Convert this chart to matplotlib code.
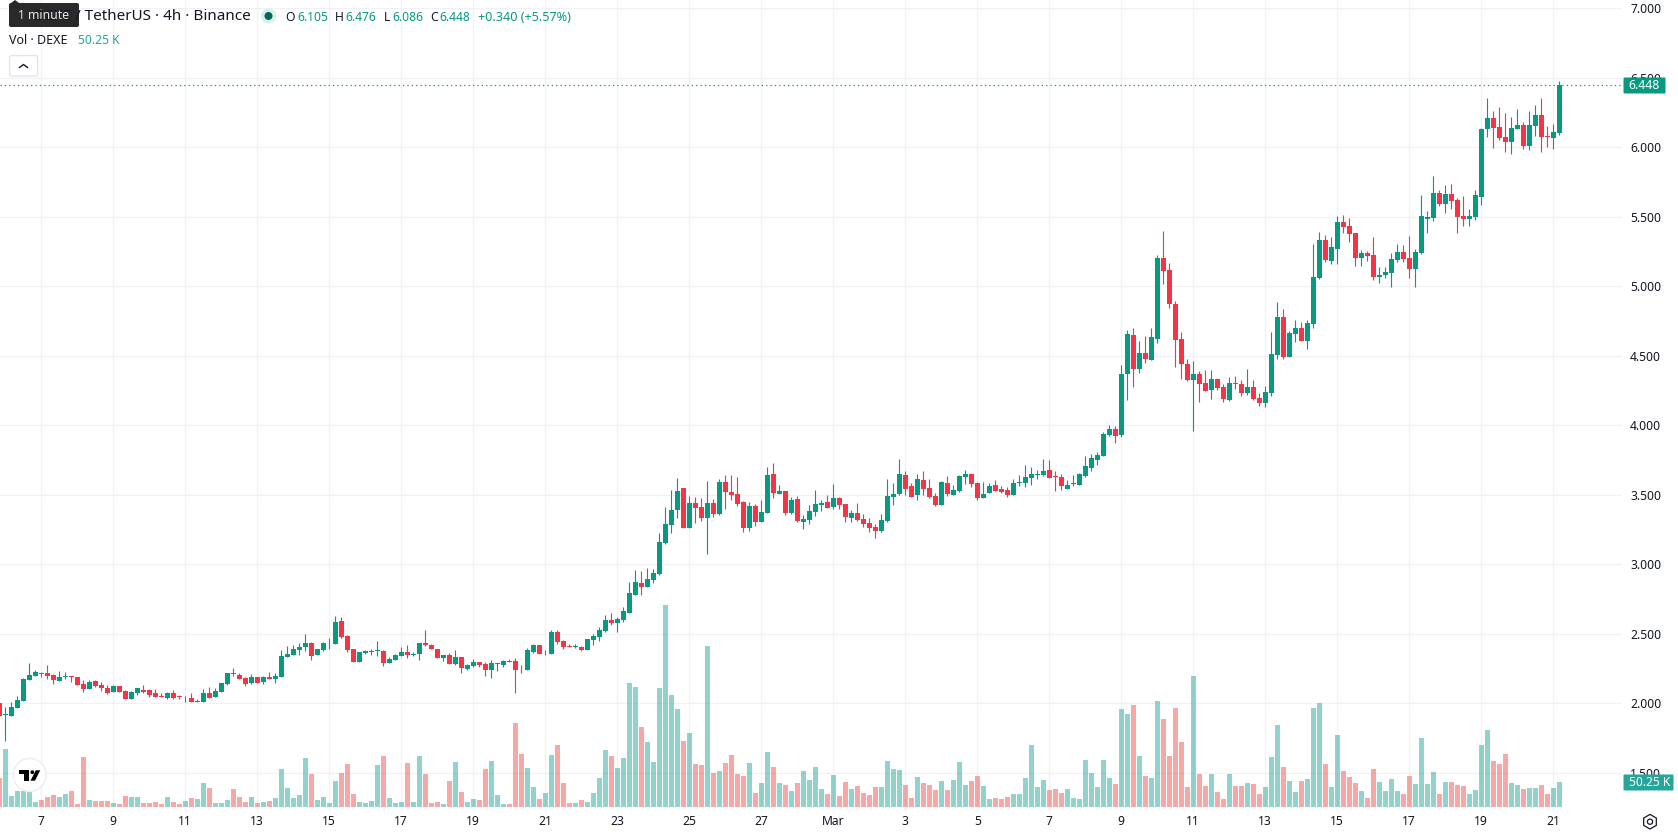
import matplotlib
matplotlib.use("Agg")
import numpy as np
import matplotlib.pyplot as plt
from matplotlib.patches import Circle, FancyBboxPatch, Polygon, Rectangle, RegularPolygon

plt.rcParams['font.family'] = ['Noto Sans', 'DejaVu Sans']

# 4h candles, DEXE/USDT
opens = [1.999,1.917,1.910,1.968,2.018,2.169,2.198,2.217,2.217,2.203,2.162,2.191,2.193,2.189,2.138,2.105,2.160,2.131,2.109,2.083,
 2.124,2.088,2.033,2.073,2.095,2.097,2.073,2.052,2.040,2.073,2.052,2.035,2.037,2.011,2.011,2.073,2.047,2.083,2.138,2.217,
 2.203,2.181,2.145,2.189,2.153,2.189,2.174,2.189,2.333,2.347,2.385,2.405,2.433,2.347,2.383,2.431,2.426,2.592,2.484,2.390,
 2.297,2.361,2.371,2.378,2.376,2.289,2.311,2.339,2.368,2.346,2.353,2.432,2.418,2.389,2.324,2.346,2.281,2.332,2.245,2.267,
 2.296,2.281,2.238,2.284,2.274,2.303,2.303,2.243,2.238,2.372,2.418,2.353,2.353,2.512,2.447,2.411,2.406,2.404,2.382,2.454,
 2.476,2.519,2.598,2.576,2.598,2.648,2.778,2.862,2.836,2.886,2.929,3.152,3.282,3.390,3.548,3.260,3.440,3.412,3.332,3.440,
 3.361,3.592,3.520,3.505,3.448,3.260,3.419,3.304,3.368,3.649,3.505,3.527,3.368,3.469,3.304,3.318,3.376,3.428,3.448,3.412,
 3.476,3.433,3.332,3.368,3.325,3.296,3.268,3.239,3.311,3.484,3.505,3.642,3.563,3.498,3.606,3.548,3.491,3.426,3.584,3.498,
 3.527,3.628,3.649,3.584,3.476,3.512,3.570,3.541,3.534,3.498,3.587,3.584,3.620,3.644,3.642,3.678,3.635,3.628,3.541,3.580,
 3.570,3.635,3.692,3.750,3.779,3.930,3.973,3.929,4.368,4.649,4.404,4.519,4.469,4.620,5.203,5.117,4.872,4.620,4.440,4.325,
 4.368,4.303,4.253,4.332,4.275,4.181,4.303,4.296,4.231,4.275,4.195,4.159,4.231,4.505,4.779,4.491,4.656,4.699,4.606,4.728,
 5.058,5.332,5.181,5.267,5.462,5.433,5.382,5.202,5.238,5.224,5.066,5.080,5.094,5.188,5.246,5.202,5.123,5.238,5.483,5.490,
 5.670,5.591,5.663,5.620,5.505,5.483,5.498,5.642,6.131,6.210,6.146,6.074,6.038,6.131,6.160,6.009,6.153,6.232,6.081,6.066,
 6.105]
highs = [1.999,1.970,2.009,2.052,2.181,2.289,2.239,2.227,2.275,2.210,2.232,2.225,2.193,2.189,2.167,2.167,2.167,2.155,2.131,2.131,
 2.124,2.095,2.088,2.109,2.131,2.102,2.102,2.076,2.081,2.095,2.059,2.052,2.073,2.030,2.102,2.117,2.109,2.145,2.217,2.253,
 2.217,2.186,2.210,2.189,2.196,2.225,2.217,2.383,2.412,2.419,2.433,2.498,2.441,2.390,2.441,2.469,2.628,2.621,2.491,2.390,
 2.369,2.383,2.390,2.448,2.383,2.333,2.354,2.404,2.418,2.368,2.432,2.526,2.425,2.389,2.346,2.360,2.382,2.332,2.281,2.317,
 2.296,2.296,2.310,2.288,2.310,2.317,2.324,2.274,2.396,2.425,2.418,2.382,2.526,2.526,2.454,2.425,2.425,2.411,2.461,2.497,
 2.548,2.634,2.648,2.620,2.692,2.872,2.958,2.951,2.972,2.965,3.224,3.412,3.534,3.620,3.548,3.491,3.484,3.476,3.599,3.469,
 3.613,3.642,3.642,3.628,3.455,3.448,3.433,3.462,3.700,3.728,3.570,3.527,3.484,3.491,3.354,3.426,3.534,3.462,3.498,3.577,
 3.484,3.433,3.390,3.440,3.361,3.332,3.289,3.361,3.613,3.584,3.757,3.671,3.584,3.649,3.671,3.613,3.512,3.599,3.635,3.570,
 3.642,3.678,3.649,3.592,3.592,3.584,3.606,3.563,3.556,3.613,3.642,3.714,3.700,3.678,3.757,3.750,3.671,3.649,3.606,3.642,
 3.656,3.779,3.793,3.808,3.952,4.002,3.995,4.433,4.685,4.699,4.606,4.642,4.699,5.225,5.398,5.167,4.894,4.671,4.476,4.462,
 4.390,4.397,4.397,4.339,4.296,4.347,4.354,4.325,4.404,4.325,4.231,4.282,4.671,4.887,4.836,4.678,4.757,4.743,4.757,5.303,
 5.390,5.368,5.354,5.505,5.512,5.490,5.382,5.260,5.253,5.354,5.138,5.138,5.238,5.303,5.296,5.361,5.267,5.656,5.541,5.793,
 5.692,5.728,5.735,5.634,5.649,5.555,5.692,6.138,6.354,6.261,6.290,6.246,6.218,6.275,6.182,6.261,6.304,6.354,6.153,6.167,
 6.476]
lows = [1.910,1.730,1.910,1.968,2.018,2.169,2.198,2.191,2.177,2.141,2.162,2.177,2.155,2.131,2.083,2.105,2.119,2.090,2.069,2.083,
 2.083,2.033,2.033,2.061,2.076,2.047,2.047,2.047,2.030,2.033,2.033,2.011,2.011,2.011,2.011,2.040,2.047,2.083,2.131,2.198,
 2.177,2.124,2.141,2.148,2.141,2.177,2.148,2.189,2.333,2.347,2.347,2.376,2.311,2.347,2.376,2.390,2.426,2.469,2.369,2.297,
 2.297,2.354,2.347,2.340,2.268,2.289,2.311,2.339,2.324,2.339,2.310,2.411,2.389,2.324,2.303,2.281,2.274,2.216,2.238,2.260,
 2.260,2.195,2.180,2.231,2.260,2.296,2.072,2.216,2.238,2.360,2.353,2.346,2.353,2.425,2.389,2.404,2.396,2.375,2.382,2.418,
 2.447,2.512,2.562,2.512,2.584,2.648,2.778,2.778,2.836,2.864,2.922,3.145,3.224,3.332,3.260,3.260,3.296,3.311,3.073,3.340,
 3.354,3.397,3.462,3.419,3.232,3.239,3.275,3.304,3.368,3.476,3.505,3.354,3.361,3.304,3.253,3.289,3.347,3.383,3.404,3.397,
 3.397,3.304,3.304,3.311,3.268,3.232,3.188,3.232,3.304,3.426,3.498,3.498,3.484,3.462,3.498,3.476,3.419,3.426,3.491,3.498,
 3.520,3.577,3.556,3.462,3.476,3.512,3.527,3.512,3.484,3.498,3.563,3.556,3.570,3.613,3.635,3.620,3.527,3.534,3.541,3.563,
 3.570,3.628,3.671,3.714,3.779,3.923,3.872,3.915,4.181,4.275,4.375,4.447,4.469,4.591,5.016,4.843,4.419,4.332,4.318,3.958,
 4.167,4.246,4.188,4.253,4.167,4.174,4.260,4.210,4.217,4.181,4.138,4.131,4.210,4.476,4.476,4.491,4.599,4.606,4.548,4.699,
 5.051,5.174,5.159,5.159,5.382,5.318,5.145,5.145,5.181,5.044,5.022,5.058,4.994,5.174,5.174,5.058,4.994,5.231,5.382,5.469,
 5.577,5.526,5.555,5.382,5.433,5.433,5.476,5.584,6.074,5.994,6.052,5.966,5.951,6.131,5.987,5.980,6.081,5.966,6.002,5.987,
 6.086]
closes = [1.910,1.922,1.970,2.023,2.174,2.203,2.225,2.213,2.196,2.169,2.189,2.196,2.189,2.133,2.105,2.153,2.124,2.112,2.076,2.124,
 2.083,2.033,2.081,2.109,2.083,2.061,2.047,2.047,2.073,2.040,2.045,2.040,2.011,2.016,2.073,2.040,2.088,2.145,2.217,2.213,
 2.177,2.138,2.189,2.148,2.189,2.177,2.196,2.340,2.354,2.390,2.405,2.433,2.340,2.390,2.433,2.436,2.585,2.477,2.383,2.297,
 2.369,2.376,2.376,2.383,2.289,2.318,2.347,2.368,2.346,2.353,2.432,2.418,2.389,2.324,2.346,2.281,2.332,2.252,2.274,2.296,
 2.274,2.238,2.288,2.288,2.303,2.296,2.238,2.238,2.382,2.418,2.353,2.358,2.512,2.440,2.404,2.404,2.411,2.382,2.461,2.483,
 2.526,2.598,2.576,2.605,2.663,2.792,2.872,2.836,2.893,2.936,3.160,3.289,3.390,3.527,3.260,3.440,3.404,3.332,3.440,3.361,
 3.592,3.520,3.498,3.433,3.260,3.419,3.304,3.376,3.642,3.512,3.527,3.368,3.462,3.311,3.325,3.383,3.433,3.440,3.404,3.476,
 3.426,3.340,3.368,3.318,3.289,3.260,3.239,3.318,3.491,3.505,3.649,3.541,3.484,3.613,3.541,3.484,3.426,3.592,3.505,3.534,
 3.635,3.649,3.577,3.476,3.505,3.563,3.527,3.520,3.498,3.584,3.592,3.628,3.649,3.649,3.671,3.620,3.630,3.563,3.570,3.584,
 3.649,3.707,3.764,3.786,3.937,3.973,3.923,4.368,4.656,4.404,4.519,4.476,4.635,5.203,5.110,4.872,4.613,4.440,4.325,4.368,
 4.296,4.246,4.332,4.267,4.188,4.303,4.299,4.231,4.275,4.188,4.159,4.239,4.512,4.779,4.491,4.663,4.699,4.606,4.735,5.066,
 5.332,5.188,5.282,5.462,5.426,5.375,5.202,5.238,5.217,5.066,5.080,5.102,5.195,5.246,5.195,5.123,5.246,5.505,5.498,5.670,
 5.591,5.663,5.613,5.498,5.483,5.505,5.656,6.131,6.210,6.138,6.066,6.038,6.138,6.160,6.009,6.160,6.232,6.074,6.076,6.110,
 6.448]
# volume, thousands
volumes = [59.2,118.3,22.4,32.6,32.6,30.6,10.2,14.3,20.4,24.5,20.4,26.5,32.6,6.1,102.0,14.3,12.2,12.2,12.2,8.2,
 6.1,22.4,20.4,20.4,8.2,8.2,10.2,6.1,20.4,10.2,6.1,12.2,18.4,16.3,49.0,38.8,8.2,8.2,14.3,36.7,
 20.4,10.2,20.4,8.2,10.2,12.2,18.4,77.5,38.8,18.4,24.5,100.0,67.3,14.3,20.4,8.2,53.0,69.4,87.7,26.5,
 10.2,8.2,12.2,85.7,104.0,18.4,8.2,10.2,89.8,10.2,104.0,67.3,8.2,10.2,6.1,53.0,91.8,30.6,10.2,16.3,
 14.3,77.5,93.8,24.5,6.1,6.1,171.4,108.1,79.6,40.8,16.3,28.6,106.1,126.5,49.0,8.2,8.2,14.3,10.2,28.6,
 59.2,116.3,104.0,79.6,100.0,253.0,244.8,163.2,132.6,91.8,242.8,412.0,228.5,199.9,134.6,151.0,87.7,85.7,328.4,69.4,
 73.4,89.8,106.1,67.3,63.2,89.8,28.6,49.0,112.2,81.6,49.0,44.9,32.6,49.0,73.4,55.0,81.6,36.7,26.5,65.3,
 22.4,51.0,36.7,42.8,28.6,24.5,40.8,40.8,93.8,77.5,75.5,44.9,18.4,61.2,49.0,44.9,34.7,53.0,34.7,55.0,
 91.8,44.9,53.0,63.2,42.8,16.3,18.4,16.3,20.4,26.5,26.5,59.2,126.5,40.8,55.0,34.7,36.7,28.6,36.7,18.4,
 16.3,95.9,69.4,40.8,95.9,59.2,46.9,199.9,189.7,208.1,104.0,63.2,59.2,216.2,179.5,104.0,202.0,132.6,40.8,267.2,
 66.6,42.2,66.6,29.9,15.6,66.6,42.2,42.2,48.3,46.2,25.8,40.1,101.3,166.6,80.9,52.4,29.9,52.4,56.4,201.3,
 211.5,87.0,40.1,146.2,72.8,60.5,48.3,32.0,17.7,76.8,50.3,32.0,56.4,32.0,25.8,62.6,46.2,140.1,46.2,70.7,
 25.8,50.3,50.3,44.2,42.2,25.8,34.0,125.8,156.4,93.2,87.0,107.4,48.3,44.2,36.0,38.1,38.1,44.2,25.8,38.1,
 50.25]

price_ticks = [1.5, 2.0, 2.5, 3.0, 3.5, 4.0, 4.5, 5.0, 5.5, 6.0, 6.5, 7.0]
date_ticks = [7, 19, 31, 43, 55, 67, 79, 91, 103, 115, 127, 139, 151, 163, 175, 187, 199, 211, 223, 235, 247, 259]
date_labels = ['7', '9', '11', '13', '15', '17', '19', '21', '23', '25', '27', 'Mar',
               '3', '5', '7', '9', '11', '13', '15', '17', '19', '21']

up = '#089981'
down = '#F23645'
up_vol = '#26A69A'
down_vol = '#EF5350'
ink = '#131722'
grid_col = '#F0F1F4'

W, H = 1678, 835
fig = plt.figure(figsize=(W / 100, H / 100), dpi=100, facecolor='white')

# price pane
ax = fig.add_axes([0, 22 / H, 1622 / W, 813 / H])
ax.set_xlim(0.117, 270.45)
ax.set_ylim(1.2108, 7.0597)
for s in ax.spines.values():
    s.set_visible(False)
ax.set_yticks(price_ticks, ['%.3f' % p for p in price_ticks])
ax.set_xticks(date_ticks, date_labels)
ax.set_axisbelow(True)
ax.grid(color=grid_col, lw=0.9)

idx = np.arange(len(opens))
o = np.array(opens)
c = np.array(closes)
colors = [up if b >= a else down for a, b in zip(o, c)]
ax.vlines(idx, lows, highs, colors=colors, lw=0.8, zorder=3)
ax.bar(idx, np.abs(c - o), bottom=np.minimum(o, c), width=0.86, color=colors, lw=0, zorder=4)
ax.axhline(closes[-1], color=up, lw=0.9, ls=(0, (1, 2.5)), zorder=2)

# volume pane shares the time axis
vol = ax.twinx()
vol.set_ylim(-12.2, 1646)
vol.set_axis_off()
vol_colors = [up_vol if b >= a else down_vol for a, b in zip(o, c)]
vol.bar(idx, volumes, width=0.86, color=vol_colors, alpha=0.5, lw=0)

# twinx moves the price ticks back to the left
ax.yaxis.tick_right()
ax.tick_params(length=0, labelsize=8.7, labelcolor=ink)
ax.tick_params(axis='y', pad=5.8)
ax.tick_params(axis='x', pad=1.5)
ax.get_xticklabels()[11].set_fontweight('bold')

# chart chrome, in pixels
ui = fig.add_axes([0, 0, 1, 1], zorder=10)
ui.set_xlim(0, W)
ui.set_ylim(H, 0)
ui.set_axis_off()
ui.patch.set_visible(False)

ui.text(250.5, 16.8, 'DEXE / TetherUS · 4h · Binance', ha='right', va='center', fontsize=11, color=ink)
ui.add_patch(Circle((268.5, 16), 7.5, fc='#D9EFEB', ec='none'))
ui.add_patch(Circle((268.5, 16), 4, fc='#00695C', ec='none'))
for x, t in [(285.5, 'O'), (335, 'H'), (384, 'L'), (430, 'C')]:
    ui.text(x, 17.2, t, va='center', fontsize=8.7, color=ink)
for x, t in [(297, '6.105'), (345.5, '6.476'), (392, '6.086'), (439.5, '6.448')]:
    ui.text(x, 17.2, t, va='center', fontsize=8.7, color=up)
ui.text(477.5, 17.2, '+0.340 (+5.57%)', va='center', fontsize=9.1, color=up)
ui.text(9, 41, 'Vol · DEXE', va='center', fontsize=9, color=ink)
ui.text(78, 41, '50.25 K', va='center', fontsize=8.7, color=up_vol)

# tooltip over the symbol name
ui.add_patch(Polygon([(11, 3), (15, 0), (19, 3)], fc='#2A2A2A', ec='none'))
ui.add_patch(FancyBboxPatch((11, 5), 66, 20, boxstyle='round,pad=2,rounding_size=2', fc='#2A2A2A', ec='none'))
ui.text(43.5, 15.5, '1 minute', ha='center', va='center', fontsize=8.8, color='#E8E8E8')

# collapse button
ui.add_patch(FancyBboxPatch((11.6, 57.6), 24, 16.4, boxstyle='round,pad=2,rounding_size=2', fc='white', ec='#E0E3EB', lw=0.9))
ui.plot([19.5, 23.5, 27.5], [67.5, 64.5, 67.5], color=ink, lw=1)

# last price and last volume labels
ui.add_patch(FancyBboxPatch((1624, 78), 41, 15, boxstyle='round,pad=0.5,rounding_size=1', fc=up, ec='none'))
ui.text(1644.5, 85.5, '6.448', ha='center', va='center', fontsize=8.8, color='white')
ui.add_patch(FancyBboxPatch((1624, 775), 49, 15, boxstyle='round,pad=0.5,rounding_size=1', fc=up_vol, ec='none'))
ui.text(1649.5, 782.5, '50.25 K', ha='center', va='center', fontsize=8.6, color='white')

# settings icon
ui.add_patch(RegularPolygon((1650, 821.7), 6, radius=7.3, orientation=np.pi / 2 + np.pi / 6, fc='none', ec=ink, lw=0.9))
ui.add_patch(Circle((1650, 821.7), 2.6, fc='none', ec=ink, lw=0.9))

# watermark
ui.add_patch(Circle((29.7, 775), 16.5, fc='white', ec='#EDEDED', lw=1))
ui.add_patch(Rectangle((19.3, 770.3), 9.7, 3.7, fc='black', ec='none'))
ui.add_patch(Rectangle((24, 770.3), 5, 10.4, fc='black', ec='none'))
ui.add_patch(Circle((32.3, 772.2), 1.9, fc='black', ec='none'))
ui.add_patch(Polygon([(35.8, 770.3), (40.2, 770.3), (35, 780.7), (30.5, 780.7)], fc='black', ec='none'))

fig.savefig('out.png', dpi=100, facecolor='white')
